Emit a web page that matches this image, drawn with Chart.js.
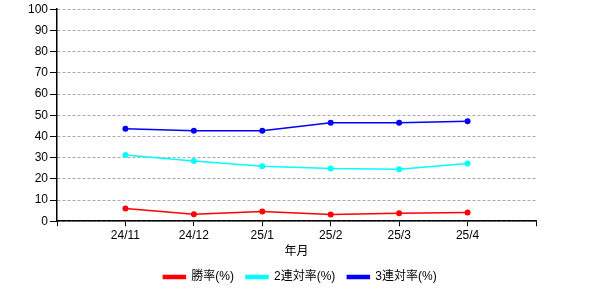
<!DOCTYPE html>
<html>
<head>
<meta charset="utf-8">
<script src="https://cdn.jsdelivr.net/npm/chart.js@4"></script>
<style>
  html, body { margin: 0; padding: 0; background: #fff; }
  #wrap { width: 600px; height: 300px; }
</style>
</head>
<body>
<div id="wrap"><canvas id="chart" width="600" height="300"></canvas></div>
<script>
// ----------------------------
// Data
// ----------------------------
const months = ["24/11", "24/12", "25/1", "25/2", "25/3", "25/4"];
const winRate = [6.0, 3.3, 4.6, 3.2, 3.8, 4.1];
const top2Rate = [31.2, 28.4, 25.9, 24.8, 24.5, 27.2];
const top3Rate = [43.6, 42.7, 42.7, 46.4, 46.4, 47.2];
const seriesNames = ["勝率(%)", "2連対率(%)", "3連対率(%)"];

const FONT = "'Liberation Sans', Arial, 'Noto Sans CJK JP', sans-serif";

// x positions 1..n, with an empty slot at each end
const toPoints = vals => vals.map((v, i) => ({ x: i + 1, y: v }));

function makeSet(label, vals, color) {
  return {
    label: label,
    data: toPoints(vals),
    borderColor: color,
    backgroundColor: color,
    borderWidth: 1.5,
    pointRadius: 3,
    pointHoverRadius: 3,
    pointBorderWidth: 0,
    tension: 0
  };
}

// ----------------------------
// Chart
// ----------------------------
const ctx = document.getElementById("chart").getContext("2d");
new Chart(ctx, {
  type: "line",
  data: {
    datasets: [
      makeSet(seriesNames[0], winRate, "#ff0000"),
      makeSet(seriesNames[1], top2Rate, "#00ffff"),
      makeSet(seriesNames[2], top3Rate, "#0000ff")
    ]
  },
  options: {
    responsive: false,
    animation: false,
    layout: { padding: { top: 3, right: 0, left: 0, bottom: 7 } },
    plugins: {
      tooltip: { enabled: false },
      legend: {
        position: "bottom",
        labels: {
          boxWidth: 22,
          boxHeight: 3,
          padding: 12,
          color: "#000",
          font: { family: FONT, size: 12 }
        }
      }
    },
    scales: {
      x: {
        type: "linear",
        min: 0,
        max: months.length + 1,
        afterBuildTicks: scale => {
          scale.ticks = [];
          for (let i = 0; i <= months.length + 1; i++) scale.ticks.push({ value: i });
        },
        ticks: {
          color: "#000",
          font: { family: FONT, size: 12 },
          padding: 2,
          maxRotation: 0,
          autoSkip: false,
          callback: v => months[v - 1] || ""
        },
        grid: { drawOnChartArea: false, drawTicks: true, tickLength: 5, tickColor: "#000" },
        border: { display: true, color: "#000", width: 1.5 },
        title: {
          display: true,
          text: "年月",
          color: "#000",
          font: { family: FONT, size: 12 },
          padding: { top: 0, bottom: 0 }
        }
      },
      y: {
        min: 0,
        max: 100,
        afterFit: scale => { scale.width = 57; },
        ticks: {
          stepSize: 10,
          color: "#000",
          font: { family: FONT, size: 12 },
          padding: 2
        },
        grid: {
          color: "#aaaaaa",
          tickColor: "#000",
          tickLength: 7,
          tickBorderDash: [],
          lineWidth: 1
        },
        border: { display: true, color: "#000", width: 1.5, dash: [3, 2] }
      },
      // empty right-hand spacer so the legend stays centred on the canvas
      yRight: {
        position: "right",
        display: true,
        afterFit: scale => { scale.width = 64; },
        ticks: { display: false },
        grid: { display: false, drawTicks: false },
        border: { display: false }
      }
    }
  }
});
</script>
</body>
</html>
